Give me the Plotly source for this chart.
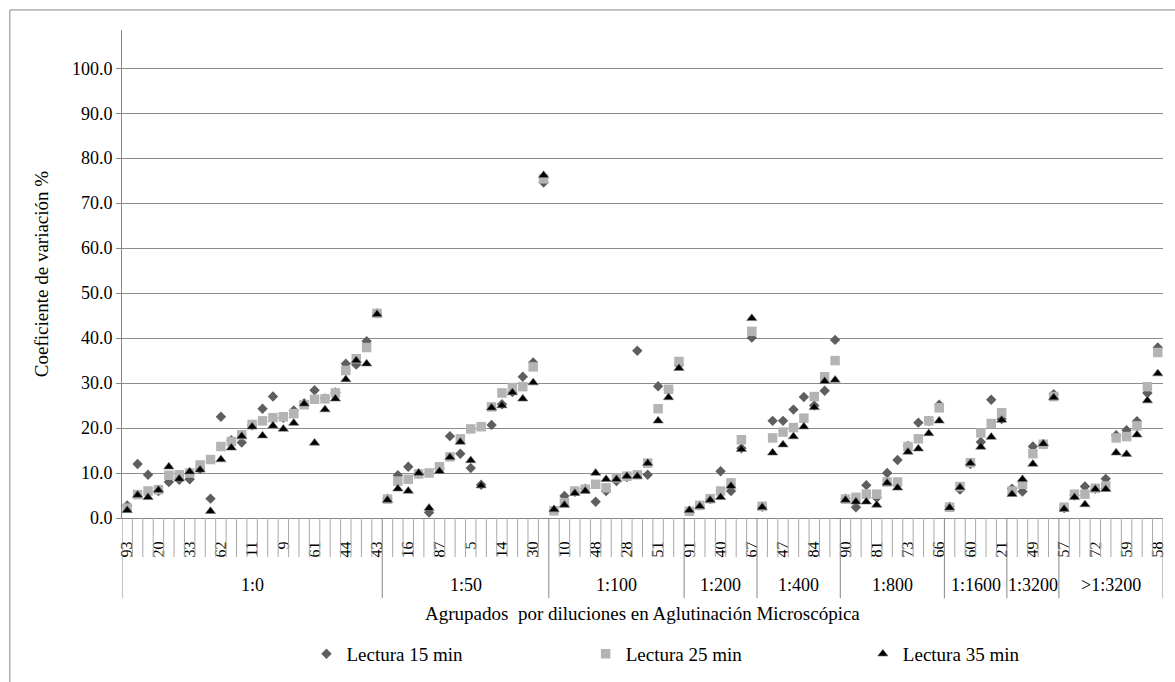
import plotly.graph_objects as go

# ---------------- data ----------------
groups = ["1:0", "1:50", "1:100", "1:200", "1:400", "1:800", "1:1600", "1:3200", ">1:3200"]
group_sizes = [25, 16, 13, 7, 8, 10, 6, 5, 10]

# category labels shown on the axis (every third serum)
tick_labels = ["93", "20", "33", "62", "11", "9", "61", "44", "43",
               "16", "87", "5", "14", "30",
               "10", "48", "28", "51",
               "91", "40", "67",
               "47", "84",
               "90", "81", "73", "66",
               "60", "21",
               "49",
               "57", "72", "59", "58"]

lectura_15 = [2.8, 12.0, 9.6, 6.0, 8.0, 8.5, 8.6, 10.9, 4.3, 22.5,
              17.3, 16.8, 20.6, 24.3, 27.0, 22.3, 23.9, 25.5, 28.4, 26.6,
              27.9, 34.3, 34.1, 39.3, 45.5,
              4.3, 9.5, 11.4, 9.9, 1.2, 11.0, 18.2, 14.3, 11.1, 7.4,
              20.7, 25.3, 28.0, 31.4, 34.6, 74.6,
              1.8, 4.9, 5.8, 6.5, 3.6, 6.0, 8.2, 9.1, 37.2, 9.6,
              29.3, 28.5, 34.0,
              1.6, 2.8, 4.2, 10.4, 6.0, 15.5, 40.1,
              2.5, 21.6, 21.6, 24.1, 26.9, 25.0, 28.3, 39.6,
              4.3, 2.4, 7.3, 4.5, 10.0, 12.9, 16.0, 21.2, 21.6, 25.2,
              2.5, 6.3, 12.0, 16.9, 26.3, 22.0,
              6.5, 5.9, 15.9, 16.4, 27.5,
              2.2, 5.0, 7.0, 6.5, 8.7, 18.4, 19.5, 21.5, 27.8, 37.9]

lectura_25 = [2.2, 5.2, 6.0, 6.3, 9.5, 9.6, 10.0, 11.8, 13.0, 15.9,
              17.0, 18.5, 20.8, 21.6, 22.3, 22.5, 23.2, 25.2, 26.4, 26.5,
              27.8, 32.8, 35.4, 37.9, 45.5,
              4.2, 8.2, 8.6, 9.8, 10.0, 11.4, 13.6, 17.6, 19.8, 20.3,
              24.7, 27.8, 29.0, 29.2, 33.6, 75.4,
              1.6, 3.4, 6.0, 6.4, 7.5, 6.7, 8.9, 9.3, 9.6, 12.2,
              24.3, 28.6, 34.8,
              1.5, 2.8, 4.3, 6.0, 7.8, 17.4, 41.5,
              2.6, 17.8, 19.1, 20.1, 22.2, 27.0, 31.4, 35.0,
              4.2, 4.6, 5.3, 5.3, 8.0, 8.0, 15.9, 17.6, 21.6, 24.5,
              2.4, 7.0, 12.3, 18.9, 21.0, 23.4,
              6.0, 7.5, 14.3, 16.4, 27.0,
              2.4, 5.3, 5.3, 6.6, 7.1, 17.8, 18.1, 20.5, 29.2, 36.8]

lectura_35 = [1.7, 5.1, 4.6, 6.2, 11.4, 8.7, 10.3, 10.7, 1.5, 13.0,
              15.6, 18.2, 20.3, 18.3, 20.5, 19.8, 21.1, 25.4, 16.7, 24.1,
              26.5, 30.8, 35.0, 34.3, 45.3,
              4.0, 6.5, 6.0, 10.0, 2.2, 10.4, 13.5, 16.9, 12.8, 7.2,
              24.5, 25.0, 27.9, 26.5, 30.1, 76.2,
              1.9, 2.9, 5.5, 6.0, 10.0, 8.6, 8.6, 9.3, 9.3, 12.2,
              21.6, 26.8, 33.3,
              1.7, 2.6, 4.0, 4.6, 7.1, 15.3, 44.4,
              2.4, 14.5, 16.3, 18.1, 20.3, 24.6, 30.4, 30.7,
              4.0, 3.6, 3.6, 2.9, 7.8, 6.7, 14.7, 15.4, 18.8, 21.6,
              2.3, 6.8, 12.2, 15.8, 18.0, 21.8,
              5.3, 8.6, 12.0, 16.5, 26.8,
              2.0, 4.6, 3.0, 6.4, 6.4, 14.5, 14.2, 18.5, 26.1, 32.1]

y_ticks = [0, 10, 20, 30, 40, 50, 60, 70, 80, 90, 100]

# ---------------- layout constants ----------------
W, H = 1175, 682
ML, MR, MT, MB = 122, 9, 30, 153
PW, PH = W - ML - MR, H - MT - MB
FONT = "Liberation Serif"
GRID = "#8c8c8c"
TICKC = "#a8a8a8"
AXC = "#868686"


def py(ypx):
    """pixel y (from top) -> paper y"""
    return (H - MB - ypx) / PH


def px(xpx):
    return (xpx - ML) / PW


n = sum(group_sizes)
xs = list(range(n))
tick_pos = list(range(0, n, 3))

fig = go.Figure()
fig.add_trace(go.Scatter(x=xs, y=lectura_15, mode="markers", name="Lectura 15 min",
                         marker=dict(symbol="diamond", size=8, color="#5e5e5e", line=dict(width=0)),
                         legend="legend"))
fig.add_trace(go.Scatter(x=xs, y=lectura_25, mode="markers", name="Lectura 25 min",
                         marker=dict(symbol="square", size=9.5, color="#b4b4b4", line=dict(width=0)),
                         legend="legend2"))
fig.add_trace(go.Scatter(x=xs, y=lectura_35, mode="markers", name="Lectura 35 min",
                         marker=dict(symbol="triangle-up", size=9, color="#000000",
                                     line=dict(width=0.6, color="#7a7a7a")),
                         legend="legend3"))

shapes = []
bounds = [0]
for s in group_sizes:
    bounds.append(bounds[-1] + s)
group_edges = set(bounds)
# short separators between categories
for k in range(n + 1):
    if k in group_edges:
        continue
    shapes.append(dict(type="line", xref="x", yref="paper", x0=k - 0.5, x1=k - 0.5,
                       y0=py(H - MB), y1=py(H - MB + 40), line=dict(color=TICKC, width=1)))
# long separators between dilution groups
for k in bounds:
    shapes.append(dict(type="line", xref="x", yref="paper", x0=k - 0.5, x1=k - 0.5,
                       y0=py(H - MB), y1=py(H - MB + 82), line=dict(color=AXC, width=1)))
# chart-area border (top and left visible)
shapes.append(dict(type="line", xref="paper", yref="paper", x0=px(9.5), x1=px(1180),
                   y0=py(9.5), y1=py(9.5), line=dict(color=AXC, width=1)))
shapes.append(dict(type="line", xref="paper", yref="paper", x0=px(9.5), x1=px(9.5),
                   y0=py(9.5), y1=py(700), line=dict(color=AXC, width=1)))

annotations = []
for g, a, b in zip(groups, bounds[:-1], bounds[1:]):
    annotations.append(dict(text=g, x=(a + b - 1) / 2, y=py(597), xref="x", yref="paper",
                            showarrow=False, xanchor="center", yanchor="middle",
                            font=dict(family=FONT, size=18, color="#000")))
annotations.append(dict(text="Agrupados\u00a0 por diluciones en Aglutinación Microscópica",
                        x=0.5, y=py(627), xref="paper", yref="paper", showarrow=False,
                        xanchor="center", yanchor="middle",
                        font=dict(family=FONT, size=19, color="#000")))

leg_common = dict(orientation="h", xanchor="left", yanchor="middle", y=py(668),
                  yref="paper", font=dict(family=FONT, size=19, color="#000"),
                  bgcolor="rgba(0,0,0,0)", borderwidth=0, itemwidth=30)

fig.update_layout(
    width=W, height=H,
    margin=dict(l=ML, r=MR, t=MT, b=MB),
    paper_bgcolor="white", plot_bgcolor="white",
    font=dict(family=FONT, color="#000"),
    showlegend=True,
    legend=dict(x=px(307), **leg_common),
    legend2=dict(x=px(587), **leg_common),
    legend3=dict(x=px(865), **leg_common),
    xaxis=dict(range=[-0.5, n - 0.5], showgrid=False, zeroline=False,
               showline=True, linecolor=AXC, linewidth=1,
               tickmode="array", tickvals=tick_pos, ticktext=tick_labels,
               tickangle=-90, ticks="", ticklabelstandoff=16,
               tickfont=dict(family=FONT, size=16, color="#000")),
    yaxis=dict(range=[0, 108.5], tickmode="array", tickvals=y_ticks,
               tickformat=".1f", showgrid=True, gridcolor=GRID, gridwidth=1,
               zeroline=False, showline=True, linecolor=AXC, linewidth=1,
               ticks="outside", ticklen=5, tickcolor=AXC,
               tickfont=dict(family=FONT, size=18, color="#000"),
               title=dict(text="Coeficiente de variación %", standoff=18,
                          font=dict(family=FONT, size=19, color="#000"))),
    shapes=shapes,
    annotations=annotations,
)

fig.write_html("out.html")
